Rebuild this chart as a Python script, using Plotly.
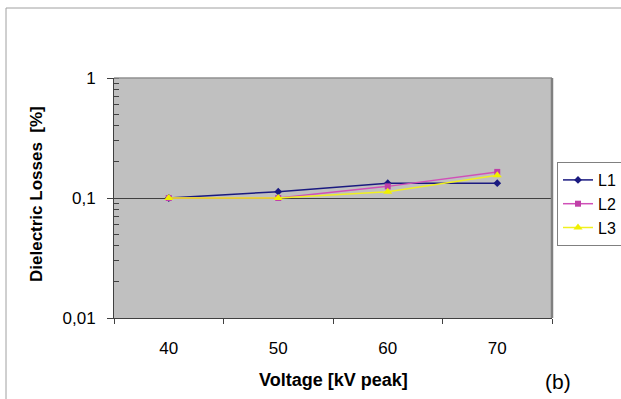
import plotly.graph_objects as go

voltages = ["40", "50", "60", "70"]
L1 = [0.10, 0.113, 0.133, 0.133]
L2 = [0.10, 0.10, 0.125, 0.165]
L3 = [0.10, 0.10, 0.113, 0.155]
ytick_vals = [0.01, 0.1, 1]
ytick_text = ["0,01", "0,1", "1"]

W, H = 621, 399
L, R, T, B = 114, 69, 78, 81
pw, ph = W - L - R, H - T - B

def px(x):
    return (x - L) / pw

def py(y):
    return (H - B - y) / ph

FONT = "Liberation Sans, Arial, sans-serif"

fig = go.Figure()
fig.add_trace(go.Scatter(x=voltages, y=L1, name="L1", mode="lines+markers",
                         line=dict(color="#1a1a80", width=1.5),
                         marker=dict(symbol="diamond", size=6, color="#1a1a80")))
fig.add_trace(go.Scatter(x=voltages, y=L2, name="L2", mode="lines+markers",
                         line=dict(color="#d050b8", width=1.5),
                         marker=dict(symbol="square", size=6, color="#c040a8")))
fig.add_trace(go.Scatter(x=voltages, y=L3, name="L3", mode="lines+markers",
                         line=dict(color="#f0f020", width=1.5),
                         marker=dict(symbol="triangle-up", size=8, color="#f0f000")))

fig.update_layout(
    width=W, height=H,
    margin=dict(l=L, r=R, t=T, b=B, autoexpand=False),
    paper_bgcolor="white", plot_bgcolor="#c0c0c0",
    font=dict(family=FONT, size=13, color="black"),
    showlegend=True,
    legend=dict(x=px(557), y=py(162), xanchor="left", yanchor="top",
                bgcolor="white", bordercolor="#808080", borderwidth=1,
                font=dict(size=16), tracegroupgap=0, itemwidth=30),
)
fig.update_xaxes(type="category", range=[-0.5, 3.5], tickson="boundaries",
                 ticks="outside", ticklen=5, tickcolor="#404040",
                 showline=True, linecolor="#404040", linewidth=1, mirror=False,
                 showgrid=False, zeroline=False, ticklabelstandoff=15,
                 tickfont=dict(size=17))
fig.update_yaxes(type="log", range=[-2, 0], tickvals=ytick_vals, ticktext=ytick_text,
                 ticks="outside", ticklen=6, tickcolor="#404040",
                 showline=True, linecolor="#404040", linewidth=1, mirror=False,
                 showgrid=True, gridcolor="#404040", gridwidth=1, zeroline=False,
                 ticklabelstandoff=8, tickfont=dict(size=17),
                 minor=dict(ticks="inside", ticklen=5, tickcolor="#404040",
                            dtick="D1", showgrid=False))

# plot-area top and right borders
fig.add_shape(type="line", xref="paper", yref="paper", x0=0, x1=1, y0=1, y1=1,
              line=dict(color="#909090", width=1.5))
fig.add_shape(type="line", xref="paper", yref="paper", x0=1, x1=1, y0=0, y1=1,
              line=dict(color="#808080", width=2.5))

# axis titles and label
fig.add_annotation(text="<b>Dielectric Losses  [%]</b>", x=px(36), y=py(194),
                   xref="paper", yref="paper", textangle=-90, showarrow=False,
                   font=dict(size=17), xanchor="center", yanchor="middle")
fig.add_annotation(text="<b>Voltage [kV peak]</b>", x=px(333), y=py(380),
                   xref="paper", yref="paper", showarrow=False,
                   font=dict(size=18), xanchor="center", yanchor="middle")
fig.add_annotation(text="(b)", x=px(558), y=py(381),
                   xref="paper", yref="paper", showarrow=False,
                   font=dict(size=21), xanchor="center", yanchor="middle")

# outer frame
fig.add_shape(type="line", xref="paper", yref="paper", x0=px(6), x1=px(W), y0=py(8), y1=py(8),
              line=dict(color="#a0a0a0", width=1))
fig.add_shape(type="line", xref="paper", yref="paper", x0=px(6), x1=px(6), y0=py(8), y1=py(H),
              line=dict(color="#a0a0a0", width=1))

fig.write_html("out.html")
